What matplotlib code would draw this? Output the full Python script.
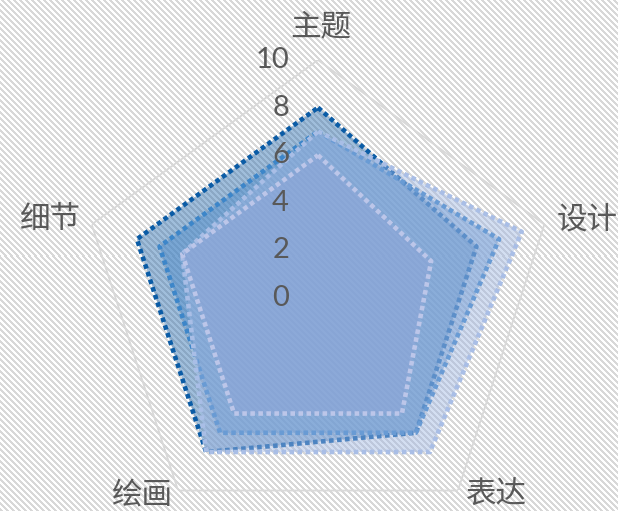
import numpy as np
import matplotlib
matplotlib.use("Agg")
import matplotlib.pyplot as plt
from matplotlib.transforms import offset_copy

categories = ["主题", "设计", "表达", "绘画", "细节"]
series_a = [8, 7, 7, 8, 8]
series_b = [7, 8, 7, 7, 7]
series_c = [7, 9, 8, 8, 6]
series_d = [6, 5, 6, 6, 6]
tick_values = [0, 2, 4, 6, 8, 10]

series_list = [series_a, series_b, series_c, series_d]
line_colors = ["#0B5CA6", "#3D86C9", "#A9BEE6", "#BCC6E9"]
fill_colors = ["#2E6FB0", "#4A8ACB", "#9FB6E2", "#8FA5D8"]

W, H = 618, 511
fig = plt.figure(figsize=(W / 100, H / 100), dpi=100)

# striped background
bg = fig.add_axes([0, 0, 1, 1])
yy, xx = np.mgrid[0:H, 0:W]
stripes = ((xx - yy) % 6) < 3
img = np.where(stripes[..., None], np.array([0.85, 0.85, 0.85]), np.array([1.0, 1.0, 1.0]))
bg.imshow(img, aspect="auto", interpolation="nearest", extent=[0, 1, 0, 1])
bg.set_axis_off()

cx, cy, R = 318 / W, (H - 298) / H, 238
rw, rh = R / W, R / H
ax = fig.add_axes([cx - rw, cy - rh, 2 * rw, 2 * rh], projection="polar")
ax.patch.set_alpha(0)
ax.set_theta_offset(np.pi / 2)
ax.set_theta_direction(-1)
ax.set_ylim(0, 10)
ax.grid(False)
ax.spines["polar"].set_visible(False)
ax.set_xticks([])
ax.set_yticks([])

n = len(categories)
angles = np.linspace(0, 2 * np.pi, n, endpoint=False)
ang_closed = np.concatenate([angles, angles[:1]])

# outer pentagon
ax.plot(ang_closed, [tick_values[-1]] * (n + 1), color="#D9D9D9", lw=1.3, zorder=1)

for i, (vals, lc, fc) in enumerate(zip(series_list, line_colors, fill_colors)):
    v = np.array(vals + vals[:1], dtype=float)
    ax.fill(ang_closed, v, color=fc, alpha=0.45, lw=0, zorder=2 + 2 * i)
    ax.plot(ang_closed, v, color=lc, lw=3.3, linestyle=(0, (1, 0.75)),
            dash_capstyle="butt", zorder=3 + 2 * i)

# radial tick labels
tick_tr = offset_copy(ax.transData, fig=fig, x=-29, y=0, units="dots")
for t in tick_values:
    ax.text(0, t, str(t), transform=tick_tr, ha="right", va="center",
            fontsize=21, color="#595959", family=["Lato", "DejaVu Sans"],
            zorder=20)

ax.set_xlim(0, 2 * np.pi)

# category labels
label_pos = [(321, 27), (587, 220), (496, 495), (142, 495), (50, 220)]
for cat, (px, py) in zip(categories, label_pos):
    fig.text(px / W, 1 - py / H, cat, ha="center", va="center", fontsize=22,
             color="#595959", family=["Noto Sans CJK SC", "DejaVu Sans"])

fig.savefig("out.png", dpi=100)
